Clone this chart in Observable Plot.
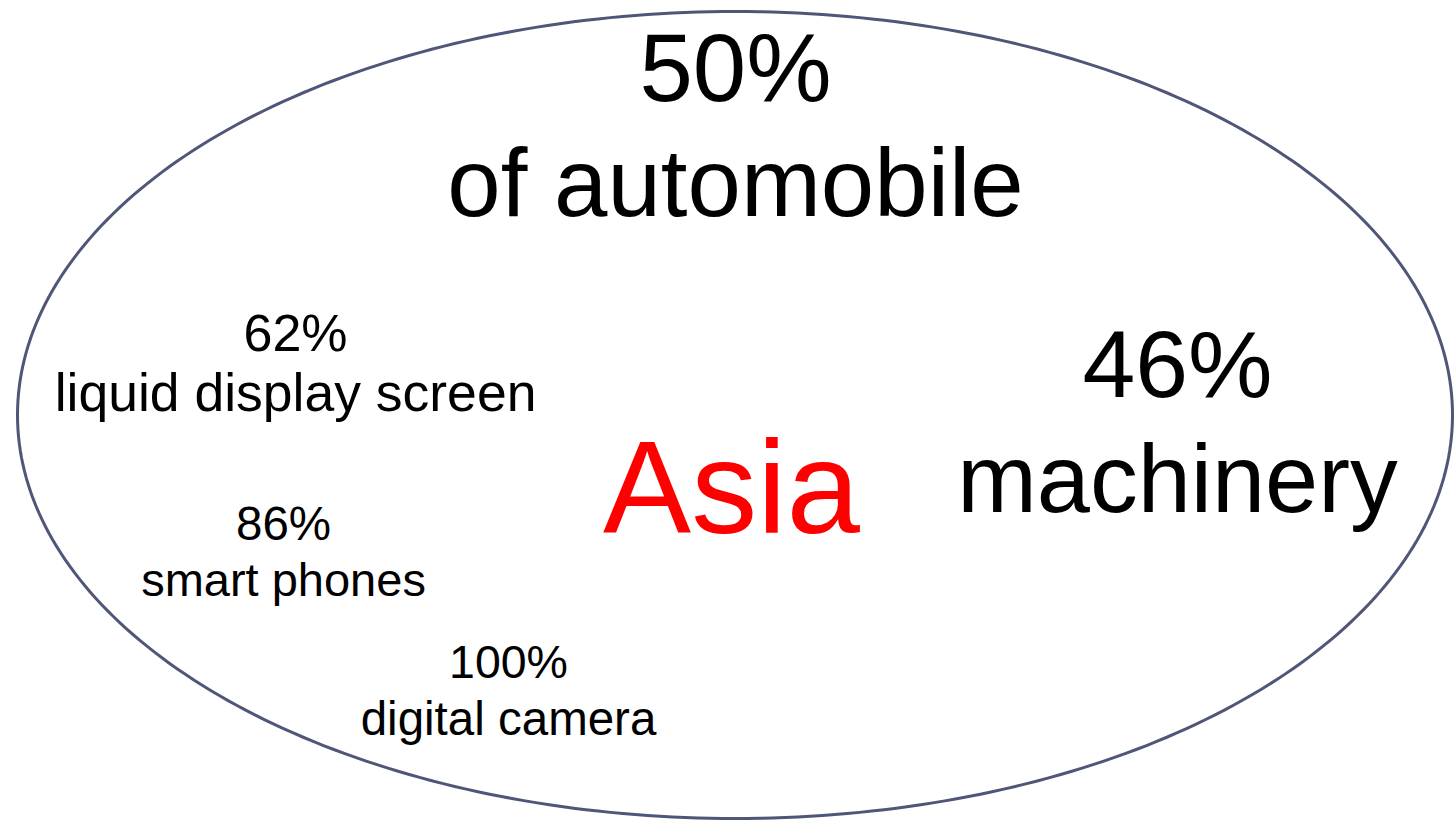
<!DOCTYPE html>
<html>
<head>
<meta charset="utf-8">
<script src="https://cdn.jsdelivr.net/npm/d3@7"></script>
<script src="https://cdn.jsdelivr.net/npm/@observablehq/plot@0.6"></script>
<style>
  html, body { margin: 0; padding: 0; background: #fff; }
  #chart svg { display: block; }
</style>
</head>
<body>
<div id="chart"></div>
<script>
// Data
const region = "Asia";
const shares = ["50%", "46%", "62%", "86%", "100%"];
const products = ["of automobile", "machinery", "liquid display screen", "smart phones", "digital camera"];

// Layout (label centres and baselines in pixel space, font sizes)
const layoutX = [735, 1177, 295, 283, 508];
const shareBaseline = [100, 396, 350, 539, 677];
const productBaseline = [215, 511, 410, 595, 734];
const shareSizes = [96, 95, 52, 47.5, 46.5];
const productSizes = [96, 95.5, 53.5, 47, 47.5];

const W = 1455, H = 822;
const ell = {cx: 734.5, cy: 414.5, rx: 717.5, ry: 403.5};
const ellipsePts = d3.range(0, 361).map(i => {
  const t = (i / 360) * 2 * Math.PI;
  return {x: ell.cx + ell.rx * Math.cos(t), y: ell.cy + ell.ry * Math.sin(t)};
});

const labels = [];
shares.forEach((s, i) => {
  labels.push({text: s, x: layoutX[i], y: shareBaseline[i], size: shareSizes[i]});
  labels.push({text: products[i], x: layoutX[i], y: productBaseline[i], size: productSizes[i]});
});

const textMarks = labels.map(d => Plot.text([d], {
  x: "x", y: "y", text: "text",
  fontSize: d.size, fill: "#000", textAnchor: "middle", lineAnchor: "bottom"
}));

const chart = Plot.plot({
  width: W, height: H,
  margin: 0,
  x: {domain: [0, W], range: [0, W], axis: null},
  y: {domain: [0, H], range: [0, H], axis: null},
  style: {fontFamily: "'Liberation Sans', Arial, sans-serif", background: "#fff"},
  marks: [
    Plot.line(ellipsePts, {x: "x", y: "y", stroke: "#4f5677", strokeWidth: 3, curve: "linear-closed"}),
    ...textMarks,
    Plot.text([{text: region, x: 731, y: 532}], {
      x: "x", y: "y", text: "text", fontSize: 132, fill: "#ff0000",
      textAnchor: "middle", lineAnchor: "bottom"
    })
  ]
});
document.getElementById("chart").append(chart);
</script>
</body>
</html>
